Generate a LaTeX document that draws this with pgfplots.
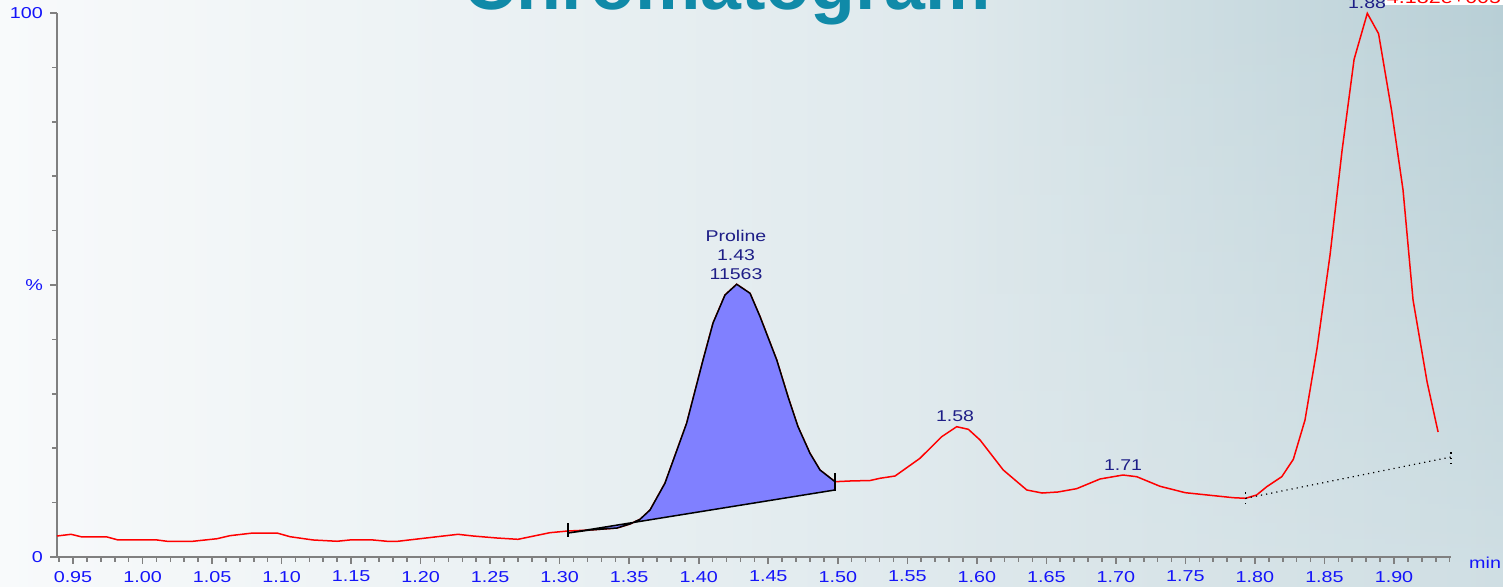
\documentclass[border=0pt]{standalone}
\usepackage{fontspec}
\setmainfont{Liberation Sans}[FakeStretch=1.25]
\newfontfamily\titlefont{Liberation Sans}
\usepackage{pgfplots}
\pgfplotsset{compat=1.18}
\usetikzlibrary{fadings}
\definecolor{tickblue}{RGB}{20,20,250}
\definecolor{peaknavy}{RGB}{30,30,135}
\definecolor{axisgray}{RGB}{128,128,128}
\definecolor{trace}{RGB}{255,0,0}
\definecolor{peakfill}{RGB}{128,128,255}
\definecolor{titleteal}{RGB}{16,138,168}
\definecolor{bgA}{RGB}{248,250,251}
\definecolor{bgM}{RGB}{234,240,242}
\definecolor{bgB}{RGB}{226,235,238}
\definecolor{bgC}{RGB}{208,223,228}
\definecolor{bgD}{RGB}{184,207,214}
\tikzfading[name=topfade, top color=transparent!0, bottom color=transparent!100]
\begin{document}
\begin{tikzpicture}[x=0.5pt,y=0.5pt]
\useasboundingbox (0,0) rectangle (1503,587);
\shade[left color=bgA, middle color=bgM, right color=bgC] (0,0) rectangle (1503,587);
\shade[left color=bgB, right color=bgD, path fading=topfade] (900,0) rectangle (1503,587);
\node[anchor=base, font=\titlefont\bfseries\fontsize{36.75}{40}\selectfont, text=titleteal, inner sep=0] at (727,577) {Chromatogram};
\begin{axis}[
  at={(28.5pt,15pt)}, anchor=south west,
  scale only axis, width=697pt, height=272pt,
  xmin=0.9385, xmax=1.941, ymin=0, ymax=100,
  axis x line*=bottom, axis y line*=left,
  axis line style={axisgray, line width=1.2pt, -},
  tick style={axisgray, line width=0.8pt},
  tick align=outside,
  major tick length=3.5pt, minor tick length=2.5pt,
  xtick={0.95,1,1.05,1.1,1.15,1.2,1.25,1.3,1.35,1.4,1.45,1.5,1.55,1.6,1.65,1.7,1.75,1.8,1.85,1.9},
  xticklabels={0.95,1.00,1.05,1.10,1.15,1.20,1.25,1.30,1.35,1.40,1.45,1.50,1.55,1.60,1.65,1.70,1.75,1.80,1.85,1.90},
  minor xtick={0.94,0.96,0.97,0.98,0.99,1.01,1.02,1.03,1.04,1.06,1.07,1.08,1.09,1.11,1.12,1.13,1.14,1.16,1.17,1.18,1.19,1.21,1.22,1.23,1.24,1.26,1.27,1.28,1.29,1.31,1.32,1.33,1.34,1.36,1.37,1.38,1.39,1.41,1.42,1.43,1.44,1.46,1.47,1.48,1.49,1.51,1.52,1.53,1.54,1.56,1.57,1.58,1.59,1.61,1.62,1.63,1.64,1.66,1.67,1.68,1.69,1.71,1.72,1.73,1.74,1.76,1.77,1.78,1.79,1.81,1.82,1.83,1.84,1.86,1.87,1.88,1.89,1.91,1.92,1.93,1.94},
  ytick={0,50,100}, yticklabels={0,\%,100},
  minor ytick={10,20,30,40,60,70,80,90},
  ticklabel style={font=\fontsize{7.9}{9}\selectfont, text=tickblue},
  clip=false,
]
\addplot[trace, line width=0.75pt, mark=none] coordinates {
(0.9385,3.86) (0.9486,4.17) (0.9565,3.68) (0.9745,3.68) (0.9824,3.13) (1.0104,3.13)
(1.0176,2.89) (1.0363,2.89) (1.0536,3.36) (1.0629,3.92) (1.0794,4.41) (1.0967,4.41)
(1.1061,3.73) (1.1226,3.13) (1.1399,2.89) (1.1492,3.13) (1.1657,3.13) (1.1758,2.89)
(1.1837,2.89) (1.1995,3.36) (1.2269,4.17) (1.2377,3.86) (1.2549,3.49) (1.2700,3.25)
(1.2930,4.47) (1.3060,4.78) (1.3218,4.96) (1.3412,5.33) (1.3506,6.07) (1.3578,6.93)
(1.3650,8.64) (1.3757,13.55) (1.3913,24.58) (1.4031,36.21) (1.4103,43.01) (1.4189,48.16)
(1.4273,50.13) (1.4369,48.47) (1.4441,44.17) (1.4561,36.21) (1.4642,29.47) (1.4714,23.95)
(1.4800,19.06) (1.4872,15.99) (1.4980,13.84) (1.5088,13.97) (1.5232,14.06) (1.5304,14.47)
(1.5412,14.89) (1.5591,18.14) (1.5747,22.11) (1.5855,23.95) (1.5939,23.47) (1.6023,21.51)
(1.6190,15.99) (1.6359,12.32) (1.6469,11.76) (1.6584,11.95) (1.6718,12.56) (1.6886,14.34)
(1.7051,15.07) (1.7150,14.76) (1.7317,13.00) (1.7499,11.82) (1.7844,10.90) (1.7933,10.79)
(1.8012,11.40) (1.8085,12.92) (1.8193,14.76) (1.8276,17.96) (1.8360,25.18) (1.8447,38.42)
(1.8540,55.51) (1.8627,74.82) (1.8713,91.49) (1.8808,99.94) (1.8889,96.20) (1.8982,82.17)
(1.9065,67.46) (1.9137,47.24) (1.9238,32.17) (1.9317,22.98)
};
\addplot[fill=peakfill, draw=black, line width=0.75pt] coordinates {
(1.3060,4.41) (1.3218,4.96) (1.3412,5.33) (1.3506,6.07) (1.3578,6.93)
(1.3650,8.64) (1.3757,13.55) (1.3913,24.58) (1.4031,36.21) (1.4103,43.01) (1.4189,48.16)
(1.4273,50.13) (1.4369,48.47) (1.4441,44.17) (1.4561,36.21) (1.4642,29.47) (1.4714,23.95)
(1.4800,19.06) (1.4872,15.99) (1.4980,13.84) (1.4980,12.32)
} -- cycle;
\addplot[black, line width=0.75pt] coordinates {(1.306,3.68) (1.306,6.25)};
\addplot[black, line width=0.75pt] coordinates {(1.498,12.13) (1.498,15.44)};
\addplot[black, dotted, line width=0.6pt] coordinates {(1.7933,10.79) (1.941,18.38)};
\addplot[black, dotted, line width=0.6pt] coordinates {(1.7933,9.74) (1.7933,12.32)};
\addplot[black, dotted, line width=0.6pt] coordinates {(1.941,17.1) (1.941,19.85)};
\node[align=center, text=peaknavy, font=\fontsize{7.8}{9.5}\selectfont, inner sep=0] at (axis cs:1.4268,55.5) {Proline\\1.43\\11563};
\node[text=peaknavy, font=\fontsize{7.8}{9.5}\selectfont, inner sep=0] at (axis cs:1.5843,25.9) {1.58};
\node[text=peaknavy, font=\fontsize{7.8}{9.5}\selectfont, inner sep=0] at (axis cs:1.7051,16.9) {1.71};
\node[text=peaknavy, font=\fontsize{7.8}{9.5}\selectfont, inner sep=0] at (axis cs:1.8806,101.9) {1.88};
\node[anchor=west, text=red, fill=white, font=\fontsize{8.6}{10}\selectfont, inner sep=0.8pt] at (axis cs:1.8935,102.9) {4.182e+005};
\node[text=tickblue, font=\fontsize{7.9}{9.5}\selectfont, inner sep=0] at (axis cs:1.9655,-1.1) {min};
\end{axis}
\end{tikzpicture}
\end{document}
